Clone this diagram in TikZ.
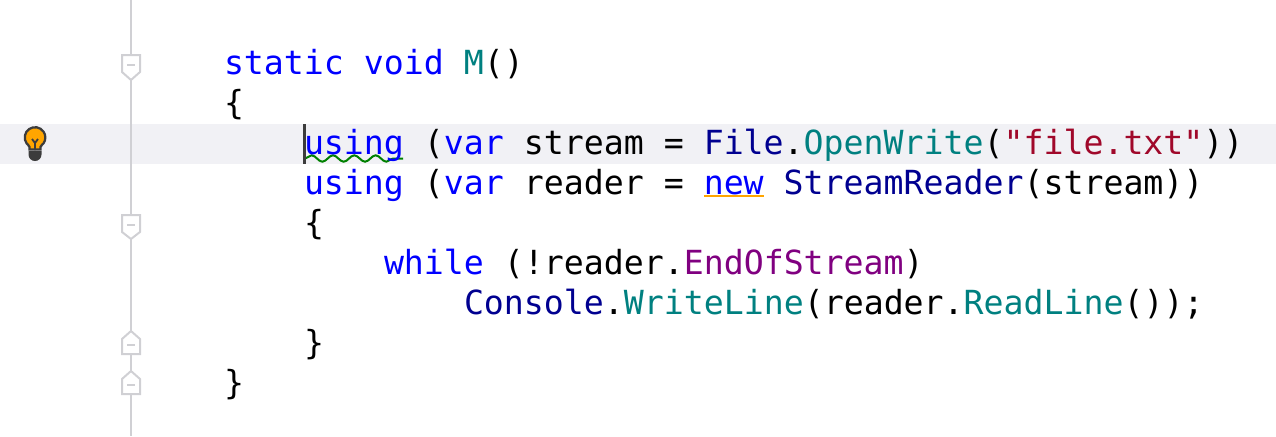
\documentclass[tikz,border=0pt]{standalone}
\usepackage{fontspec}
\usepackage{tikz}
\usetikzlibrary{decorations.pathmorphing}
\newfontfamily\codefont{DejaVu Sans Mono}
\definecolor{kwblue}{HTML}{0000FF}
\definecolor{typenavy}{HTML}{000090}
\definecolor{methodteal}{HTML}{008080}
\definecolor{strred}{HTML}{A0082A}
\definecolor{proppurple}{HTML}{800080}
\definecolor{guttergray}{HTML}{D0D0D4}
\definecolor{rowgray}{HTML}{F1F1F5}
\definecolor{bulbdark}{HTML}{3C3C3C}
\definecolor{bulborange}{HTML}{FFA500}
\tikzset{
  codeline/.style={anchor=base west,inner sep=0pt,outer sep=0pt,font=\codefont\fontsize{24.9}{30}\selectfont},
  foldmark/.style={draw=guttergray,fill=white,line width=1.5pt},
  foldminus/.style={draw=guttergray,line width=1.3pt}
}
\begin{document}
\begin{tikzpicture}[x=0.75pt,y=-0.75pt]
        \useasboundingbox (0,0) rectangle (1276,436);
        % Fila actual
            \fill[rowgray] (0,124) rectangle (1276,164);
        % Linea del margen
            \coordinate (guttertop) at (131,0);
            \coordinate (gutterbottom) at (131,436);
            \draw[guttergray,line width=1.8pt] (guttertop) -- (gutterbottom);
        % Marcas de plegado
            \draw[foldmark] (122,55) -- (140,55) -- (140,72) -- (131,80) -- (122,72) -- cycle;
            \draw[foldminus] (127,65) -- (135,65);
            \draw[foldmark] (122,215) -- (140,215) -- (140,232) -- (131,239) -- (122,232) -- cycle;
            \draw[foldminus] (127,225) -- (135,225);
            \draw[foldmark] (122,354) -- (140,354) -- (140,339) -- (131,331) -- (122,339) -- cycle;
            \draw[foldminus] (127,345) -- (135,345);
            \draw[foldmark] (122,394) -- (140,394) -- (140,379) -- (131,371) -- (122,379) -- cycle;
            \draw[foldminus] (127,385) -- (135,385);
        % Bombilla
            \fill[bulbdark] (28.5,151) -- (41.5,151) -- (41.5,154.5) arc[start angle=0,end angle=180,radius=6.5] -- cycle;
            \draw[bulbdark,fill=bulborange,line width=1.7pt] (29.5,149.5) -- (29.5,147) .. controls (29.5,145) and (26.6,144.5) .. (26.6,143.4) arc[start angle=145,end angle=395,radius=10.3] .. controls (43.4,144.5) and (40.5,145) .. (40.5,147) -- (40.5,149.5) -- cycle;
            \draw[bulbdark,line width=1.4pt] (35,150) -- (35,143) -- (32,139);
            \draw[bulbdark,line width=1.4pt] (35,143) -- (38,139);
        % Subrayados
            \draw[green!50!black,line width=1.5pt,decorate,decoration={snake,amplitude=2.4,segment length=16}] (305,158.5) -- (403,158.5);
            \draw[bulborange,line width=1.6pt] (704,196) -- (764,196);
        % Texto del codigo
            \node[codeline] (sig) at (224,74.5) {\textcolor{kwblue}{static void} \textcolor{methodteal}{M}()};
            \node[codeline] (openouter) at (224,114.5) {\{};
            \node[codeline] (usingstream) at (304,154.5) {\textcolor{kwblue}{using} (\textcolor{kwblue}{var} stream = \textcolor{typenavy}{File}.\textcolor{methodteal}{OpenWrite}(\textcolor{strred}{"file.txt"}))};
            \node[codeline] (usingreader) at (304,194.5) {\textcolor{kwblue}{using} (\textcolor{kwblue}{var} reader = \textcolor{kwblue}{new} \textcolor{typenavy}{StreamReader}(stream))};
            \node[codeline] (openinner) at (304,234.5) {\{};
            \node[codeline] (whileline) at (384,274.5) {\textcolor{kwblue}{while} (!reader.\textcolor{proppurple}{EndOfStream})};
            \node[codeline] (writeline) at (464,314.5) {\textcolor{typenavy}{Console}.\textcolor{methodteal}{WriteLine}(reader.\textcolor{methodteal}{ReadLine}());};
            \node[codeline] (closeinner) at (304,354.5) {\}};
            \node[codeline] (closeouter) at (224,394.5) {\}};
        % Cursor
            \fill[bulbdark] (303,124) rectangle (306,164);
\end{tikzpicture}
\end{document}
